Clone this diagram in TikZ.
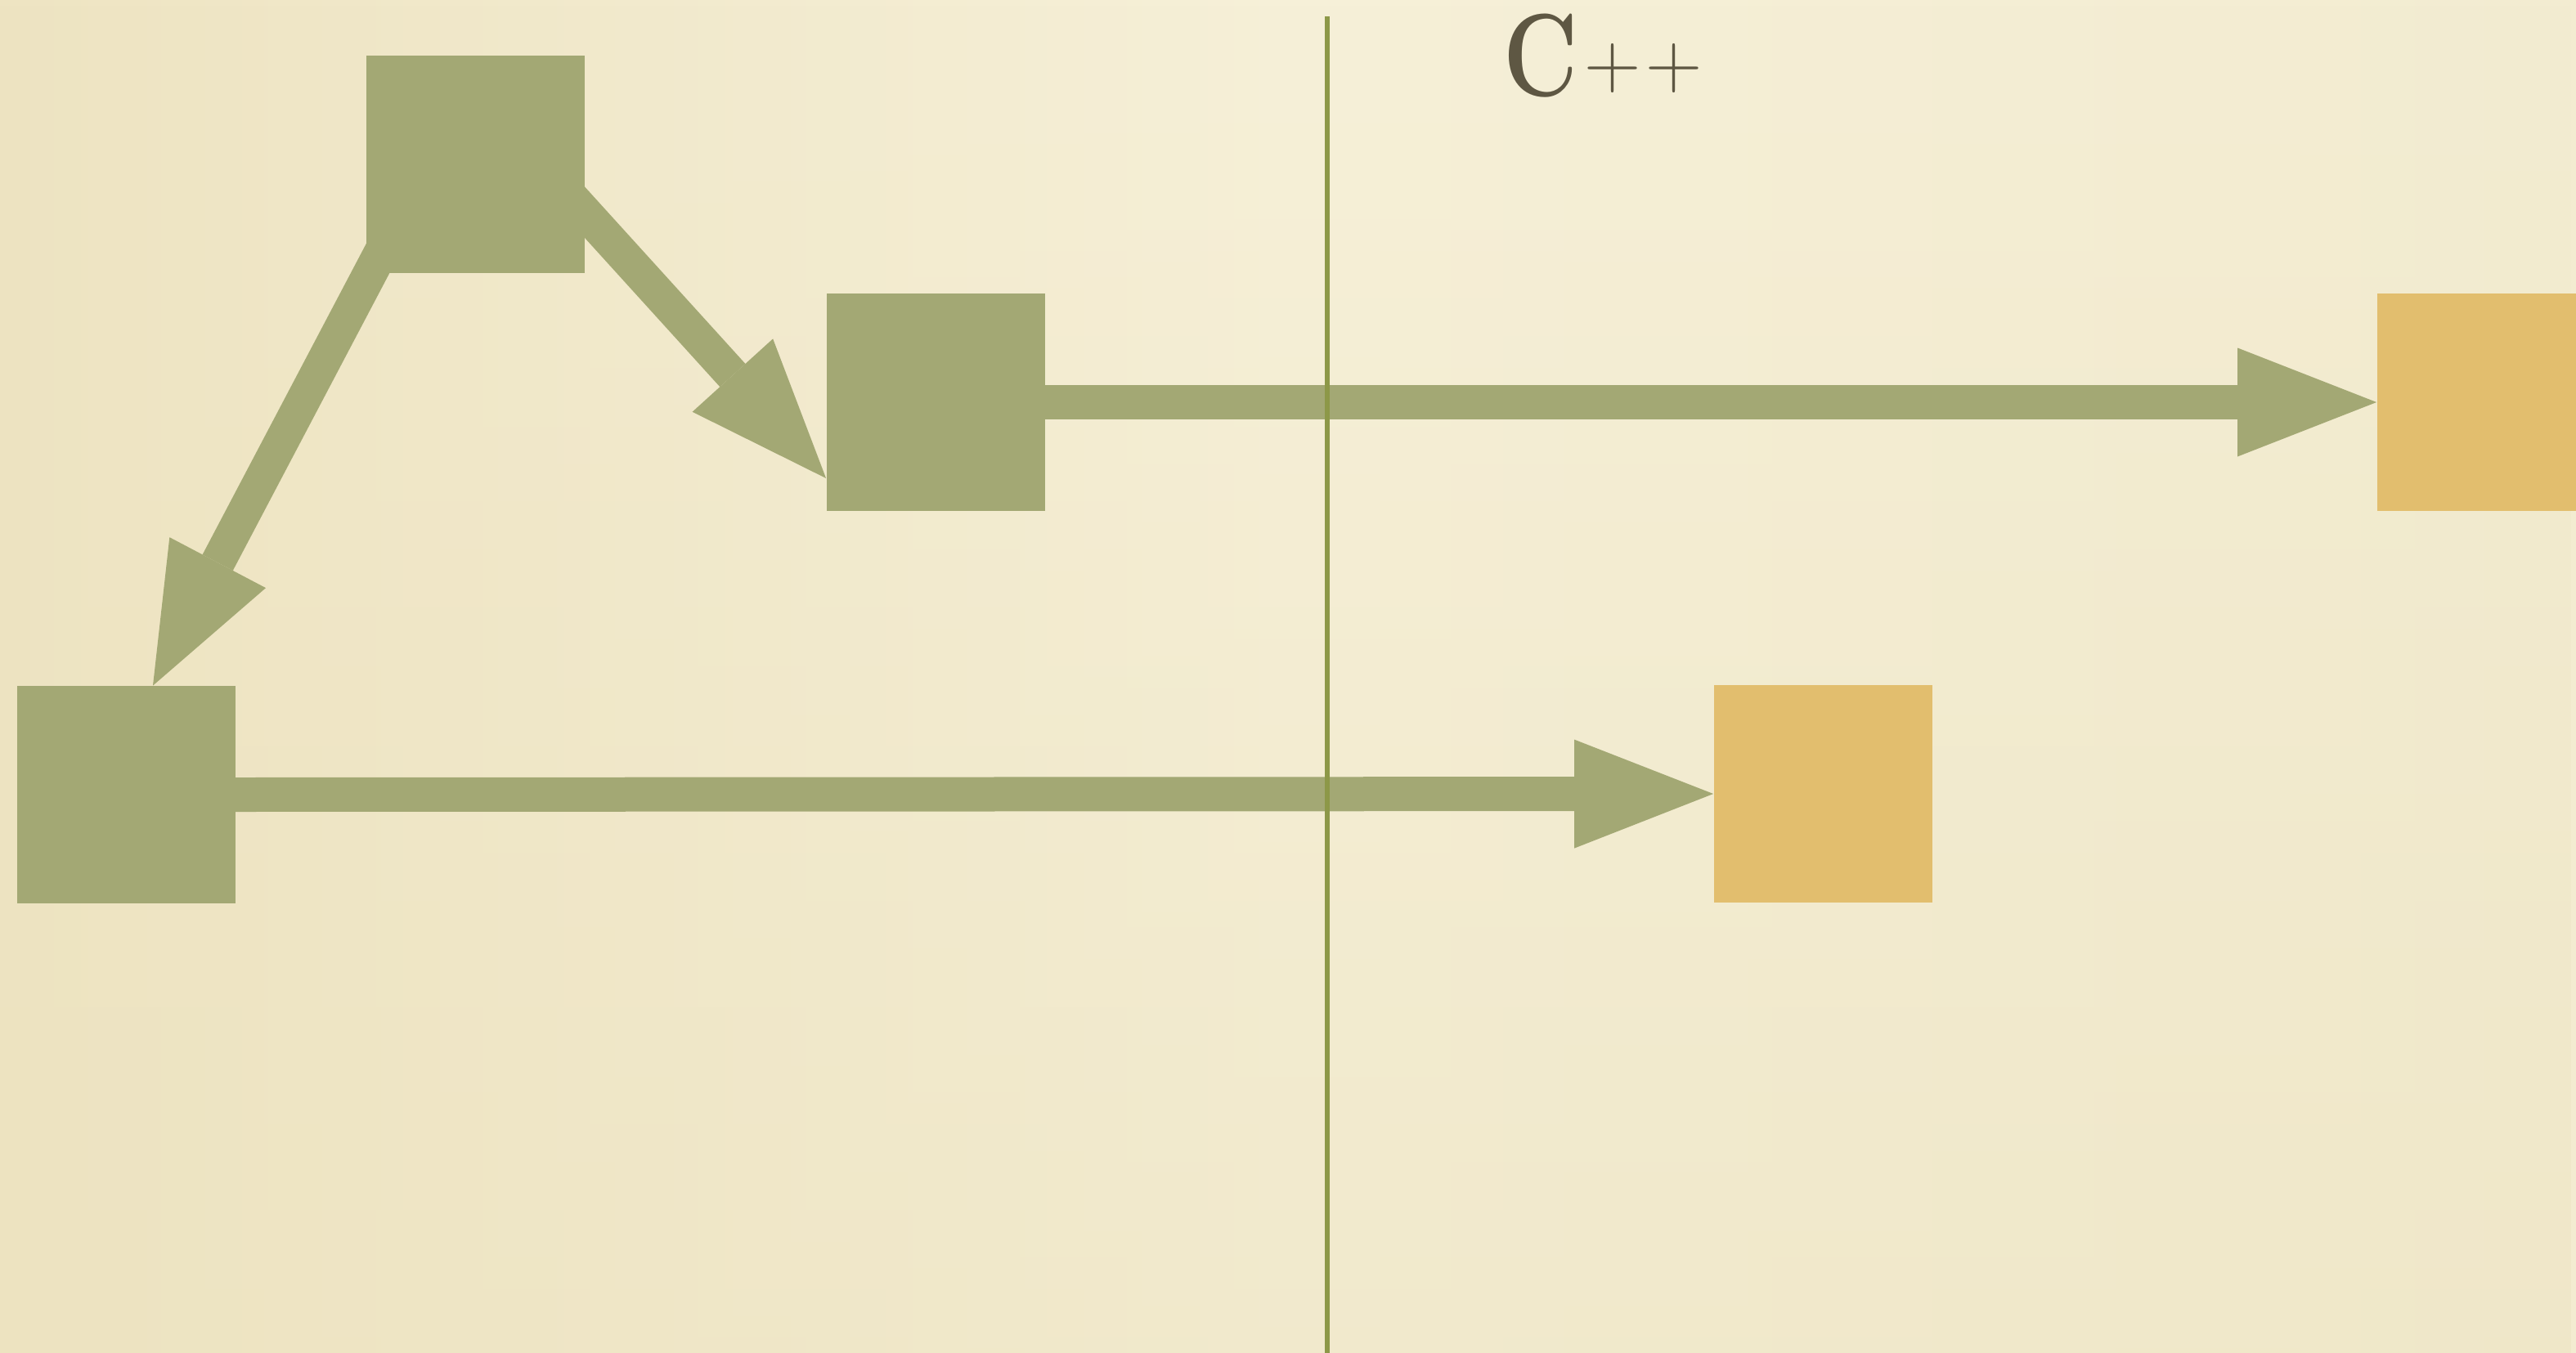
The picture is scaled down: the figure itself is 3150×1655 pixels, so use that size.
\documentclass[tikz,border=0pt]{standalone}
\usetikzlibrary{arrows.meta,calc,fadings}
\pgfdeclarelayer{bg}
\pgfsetlayers{bg,main}
\definecolor{paperL}{HTML}{EEE4C2}
\definecolor{paperM}{HTML}{F6F0D8}
\definecolor{paperR}{HTML}{F3ECD1}
\definecolor{paperB}{HTML}{ECE2BF}
\definecolor{sage}{HTML}{A3A874}
\definecolor{ochre}{HTML}{E2BE6E}
\definecolor{olive}{HTML}{8D9848}
\definecolor{ink}{HTML}{5E5743}
\begin{document}
\begin{tikzpicture}[x=0.5pt,y=-0.5pt,
  box/.style={rectangle,inner sep=0pt,minimum width=133.5pt,minimum height=133pt},
  greenbox/.style={box,fill=sage},
  goldbox/.style={box,fill=ochre},
  flow/.style={draw=sage,line width=21pt,
    -{Triangle[length=85pt,width=66.5pt,line width=0pt]}}]
  \useasboundingbox (0,0) rectangle (3150,1655);
  \clip (0,0) rectangle (3150,1655);
  \begin{pgfonlayer}{bg}
    \shade[left color=paperL,right color=paperR,middle color=paperM]
      (0,0) rectangle (3150,1655);
    \fill[paperB,opacity=0.45,path fading=north] (0,0) rectangle (3150,1655);
  \end{pgfonlayer}

  % boxes
  \node[greenbox] (A) at (581,201) {};
  \node[greenbox] (B) at (1144,492) {};
  \node[greenbox] (C) at (154,972) {};
  \node[goldbox]  (D) at (3040,492) {};
  \node[goldbox]  (E) at (2229,971) {};

  % title
  \node[anchor=base west,inner sep=0pt,text=ink] (lang) at (1838,117)
    {\scalebox{0.78}[1]{\fontsize{72}{72}\selectfont\bfseries C}\kern4pt\raisebox{5pt}{\fontsize{48}{48}\selectfont +}\kern2.6pt\raisebox{5pt}{\fontsize{48}{48}\selectfont +}};

  % divider
  \coordinate (top) at (1623,20);
  \coordinate (bot) at (1623,1655);
  \draw[olive,line width=3pt] (top) -- (bot);

  % connectors, behind the boxes
  \begin{pgfonlayer}{bg}
    \draw[flow] ($(A.center)+(69,-13)$) -- ($(B.west)+(0,93)$);
    \draw[flow] ($(A.center)+(-61,5)$) -- ($(C.north)+(33,0)$);
    \draw[flow] (B.east) -- (D.west);
    \draw[flow] (C.east) -- (E.west);
  \end{pgfonlayer}
\end{tikzpicture}
\end{document}
